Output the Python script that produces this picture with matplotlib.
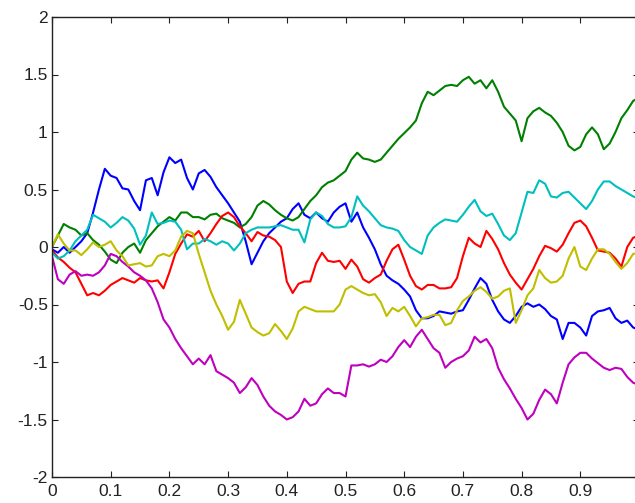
import numpy as np
import matplotlib
matplotlib.use("Agg")
import matplotlib.pyplot as plt

plt.rcParams['font.family'] = ['Liberation Sans', 'DejaVu Sans']

# time samples (0 .. 1 step 0.01)
t = np.arange(101) / 100.0

blue = [-0.02, -0.05, 0.00, -0.05, 0.00, 0.05, 0.12, 0.30, 0.50, 0.68,
        0.62, 0.60, 0.51, 0.50, 0.40, 0.32, 0.58, 0.60, 0.45, 0.65,
        0.78, 0.73, 0.76, 0.60, 0.50, 0.64, 0.67, 0.61, 0.52, 0.45,
        0.38, 0.30, 0.22, 0.05, -0.15, -0.05, 0.05, 0.12, 0.17, 0.22,
        0.25, 0.33, 0.38, 0.28, 0.25, 0.30, 0.25, 0.22, 0.30, 0.35,
        0.38, 0.22, 0.30, 0.17, 0.08, -0.02, -0.15, -0.25, -0.29, -0.32,
        -0.37, -0.43, -0.55, -0.62, -0.62, -0.60, -0.56, -0.57, -0.58, -0.56,
        -0.55, -0.46, -0.36, -0.27, -0.32, -0.46, -0.56, -0.63, -0.66, -0.60,
        -0.52, -0.49, -0.52, -0.50, -0.54, -0.60, -0.63, -0.80, -0.66, -0.66,
        -0.70, -0.77, -0.60, -0.56, -0.55, -0.53, -0.62, -0.66, -0.64, -0.70,
        -0.72]

green = [0.00, 0.10, 0.20, 0.17, 0.15, 0.10, 0.12, 0.06, 0.02, -0.04,
         -0.11, -0.14, -0.05, 0.00, 0.03, -0.05, 0.06, 0.12, 0.18, 0.22,
         0.26, 0.23, 0.30, 0.30, 0.26, 0.26, 0.24, 0.28, 0.29, 0.25,
         0.23, 0.21, 0.17, 0.20, 0.26, 0.36, 0.40, 0.37, 0.32, 0.28,
         0.25, 0.23, 0.26, 0.33, 0.40, 0.45, 0.52, 0.56, 0.58, 0.62,
         0.66, 0.76, 0.82, 0.77, 0.76, 0.74, 0.76, 0.82, 0.88, 0.94,
         0.99, 1.04, 1.10, 1.25, 1.35, 1.32, 1.36, 1.40, 1.41, 1.40,
         1.45, 1.48, 1.42, 1.45, 1.38, 1.45, 1.35, 1.22, 1.16, 1.10,
         0.92, 1.12, 1.18, 1.21, 1.17, 1.14, 1.08, 1.00, 0.88, 0.84,
         0.87, 0.98, 1.04, 0.98, 0.85, 0.90, 1.00, 1.12, 1.19, 1.27,
         1.30]

red = [-0.03, -0.09, -0.13, -0.18, -0.22, -0.32, -0.42, -0.40, -0.42, -0.38,
       -0.33, -0.30, -0.27, -0.29, -0.31, -0.27, -0.29, -0.30, -0.29, -0.36,
       -0.22, -0.06, 0.03, 0.11, 0.09, 0.14, 0.05, 0.12, 0.20, 0.27,
       0.30, 0.26, 0.18, 0.12, 0.05, 0.13, 0.10, 0.09, 0.06, 0.00,
       -0.30, -0.40, -0.32, -0.30, -0.30, -0.14, -0.05, -0.12, -0.13, -0.12,
       -0.19, -0.11, -0.17, -0.28, -0.31, -0.27, -0.24, -0.12, -0.02, 0.02,
       -0.11, -0.25, -0.34, -0.37, -0.33, -0.33, -0.36, -0.36, -0.35, -0.27,
       -0.08, 0.08, 0.03, 0.00, 0.14, 0.07, -0.02, -0.14, -0.24, -0.31,
       -0.37, -0.28, -0.19, -0.08, 0.01, -0.01, -0.04, 0.02, 0.12, 0.21,
       0.23, 0.18, 0.08, -0.03, -0.04, -0.05, -0.10, -0.17, 0.00, 0.08,
       0.10]

cyan = [-0.05, -0.10, -0.08, -0.03, 0.05, 0.10, 0.15, 0.28, 0.25, 0.22,
        0.17, 0.21, 0.26, 0.23, 0.16, 0.02, 0.10, 0.30, 0.20, 0.21,
        0.23, 0.22, 0.15, -0.02, 0.03, 0.03, 0.07, 0.05, 0.02, 0.05,
        0.03, -0.03, 0.03, 0.12, 0.15, 0.17, 0.17, 0.17, 0.18, 0.19,
        0.17, 0.15, 0.15, 0.04, 0.24, 0.30, 0.27, 0.20, 0.17, 0.17,
        0.18, 0.26, 0.44, 0.36, 0.31, 0.25, 0.19, 0.17, 0.16, 0.14,
        0.06, 0.00, -0.03, -0.06, 0.10, 0.17, 0.21, 0.24, 0.23, 0.22,
        0.28, 0.35, 0.41, 0.31, 0.27, 0.29, 0.20, 0.10, 0.06, 0.12,
        0.30, 0.48, 0.47, 0.58, 0.55, 0.44, 0.43, 0.47, 0.48, 0.43,
        0.38, 0.33, 0.40, 0.50, 0.57, 0.57, 0.53, 0.50, 0.47, 0.44,
        0.42]

magenta = [-0.08, -0.28, -0.32, -0.24, -0.21, -0.25, -0.24, -0.25, -0.22, -0.16,
           -0.06, -0.08, -0.13, -0.17, -0.22, -0.25, -0.29, -0.36, -0.48, -0.63,
           -0.70, -0.80, -0.88, -0.95, -1.02, -0.97, -1.02, -0.94, -1.08, -1.11,
           -1.14, -1.18, -1.27, -1.22, -1.14, -1.20, -1.30, -1.38, -1.43, -1.46,
           -1.50, -1.48, -1.43, -1.32, -1.38, -1.36, -1.28, -1.23, -1.27, -1.27,
           -1.30, -1.03, -1.03, -1.02, -1.04, -1.02, -0.98, -1.00, -0.95, -0.87,
           -0.81, -0.87, -0.78, -0.72, -0.80, -0.88, -0.92, -1.05, -1.00, -0.97,
           -0.95, -0.90, -0.78, -0.83, -0.80, -0.88, -1.05, -1.15, -1.23, -1.32,
           -1.40, -1.50, -1.45, -1.33, -1.24, -1.28, -1.36, -1.18, -1.02, -0.96,
           -0.92, -0.92, -0.97, -1.01, -1.05, -1.07, -1.05, -1.06, -1.13, -1.18,
           -1.20]

yellow = [0.00, 0.11, 0.03, -0.03, -0.03, -0.07, -0.02, 0.04, 0.00, 0.02,
          0.05, -0.03, -0.08, -0.16, -0.15, -0.14, -0.17, -0.16, -0.08, -0.06,
          -0.08, -0.03, 0.09, 0.14, 0.12, -0.06, -0.22, -0.38, -0.50, -0.60,
          -0.72, -0.65, -0.46, -0.58, -0.70, -0.74, -0.77, -0.75, -0.67, -0.73,
          -0.80, -0.71, -0.56, -0.52, -0.54, -0.56, -0.56, -0.56, -0.56, -0.50,
          -0.37, -0.34, -0.37, -0.40, -0.42, -0.41, -0.48, -0.60, -0.53, -0.56,
          -0.52, -0.60, -0.69, -0.62, -0.61, -0.59, -0.59, -0.68, -0.66, -0.55,
          -0.47, -0.43, -0.38, -0.35, -0.39, -0.45, -0.43, -0.38, -0.36, -0.66,
          -0.55, -0.42, -0.36, -0.20, -0.27, -0.31, -0.30, -0.25, -0.10, 0.00,
          -0.17, -0.20, -0.10, -0.02, -0.02, -0.06, -0.13, -0.19, -0.14, -0.06,
          -0.05]

series = [
    (blue, (0, 0, 1)),
    (green, (0, 0.5, 0)),
    (red, (1, 0, 0)),
    (cyan, (0, 0.75, 0.75)),
    (magenta, (0.75, 0, 0.75)),
    (yellow, (0.75, 0.75, 0)),
]

# the "1" tick at the right edge falls outside the cropped picture
xticks = [0, 0.1, 0.2, 0.3, 0.4, 0.5, 0.6, 0.7, 0.8, 0.9]
xticklabels = ['0', '0.1', '0.2', '0.3', '0.4', '0.5', '0.6', '0.7', '0.8', '0.9']
yticks = [-2, -1.5, -1, -0.5, 0, 0.5, 1, 1.5, 2]
yticklabels = ['-2', '-1.5', '-1', '-0.5', '0', '0.5', '1', '1.5', '2']

fig = plt.figure(figsize=(6.35, 5.03), dpi=100)
ax = fig.add_axes([52 / 635, 26 / 503, 587 / 635, 460 / 503])

for vals, col in series:
    ax.plot(t, vals, color=col, lw=1.5)

ax.set_xlim(0, 1)
ax.set_ylim(-2, 2)
ax.set_xticks(xticks)
ax.set_xticklabels(xticklabels)
ax.set_yticks(yticks)
ax.set_yticklabels(yticklabels)
ax.tick_params(direction='in', length=4.3, width=0.8, top=True, right=True,
               labelsize=12.5, colors='#222222')
ax.tick_params(axis='x', pad=5)
ax.tick_params(axis='y', pad=3)
for s in ax.spines.values():
    s.set_linewidth(1.0)
    s.set_color('#222222')

fig.savefig('out.png', dpi=100)
